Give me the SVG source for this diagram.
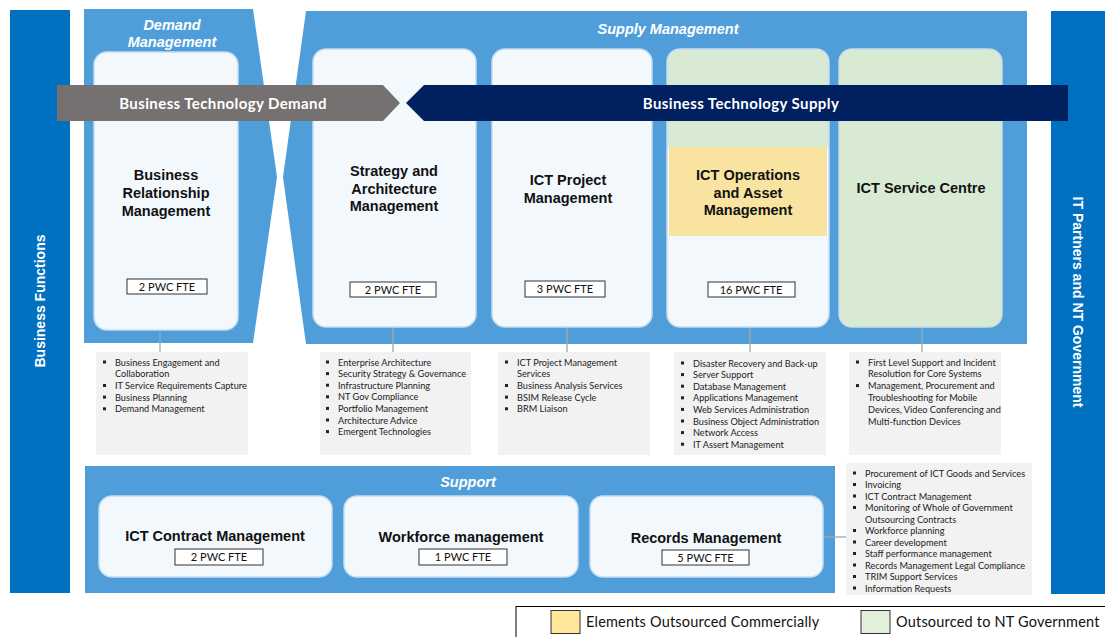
<svg xmlns="http://www.w3.org/2000/svg" width="1105" height="637" viewBox="0 0 1105 637">
  <defs>
    <style>
      .band{fill:#0070C0}
      .panel{fill:#4F9EDA}
      .node{fill:#F3F8FD;stroke:#C6DCF1;stroke-width:1.5}
      .gnode{fill:#D9EAD4;stroke:#C6DCE6;stroke-width:1.5}
      .title{font-family:"Liberation Sans",Arial,sans-serif;font-weight:bold;font-size:14.5px;fill:#111;text-anchor:middle}
      .hdr{font-family:"Liberation Sans",Arial,sans-serif;font-weight:bold;font-style:italic;font-size:14.5px;fill:#fff;text-anchor:middle}
      .side{font-family:"Liberation Sans",Arial,sans-serif;font-weight:bold;font-size:14px;fill:#fff;text-anchor:middle}
      .arrowtxt{font-family:Lato,"Noto Sans",sans-serif;font-weight:bold;font-size:15px;letter-spacing:0.4px;fill:#fff;text-anchor:middle}
      .fte rect{fill:#fff;stroke:#333;stroke-width:1}
      .fte text{font-family:Lato,"Noto Sans",sans-serif;font-size:11px;fill:#111;text-anchor:middle}
      .list .bg{fill:#F2F2F2}
      .list text{font-family:Lato,"Noto Sans",sans-serif;font-size:9.2px;fill:#222}
      .list use{fill:#222}
      .conn line{stroke:#A6A6A6;stroke-width:1.3}
      .legend text{font-family:Lato,"Noto Sans",sans-serif;font-size:14.5px;letter-spacing:0.2px;fill:#111}
    </style>
    <rect id="bul" width="3" height="3"/>
    <clipPath id="opsClip">
      <rect x="667" y="49" width="162" height="278" rx="13"/>
    </clipPath>
  </defs>

  <!-- side bands -->
  <g id="business-functions">
    <rect class="band" x="10" y="10" width="60" height="583"/>
    <text class="side" transform="translate(45,301) rotate(-90)">Business Functions</text>
  </g>
  <g id="it-partners">
    <rect class="band" x="1051" y="11" width="54" height="583"/>
    <text class="side" transform="translate(1073,302) rotate(90)">IT Partners and NT Government</text>
  </g>

  <!-- management panels -->
  <g id="demand-management">
    <path class="panel" d="M84,9 L253,9 L277,177 L253,343 L84,343 Z"/>
    <text class="hdr" x="172" y="30">Demand</text>
    <text class="hdr" x="172" y="47">Management</text>
  </g>
  <g id="supply-management">
    <path class="panel" d="M306,11 L1027,11 L1027,344 L306,344 L283,177 Z"/>
    <text class="hdr" x="668" y="34">Supply  Management</text>
  </g>
  <g id="support">
    <rect class="panel" x="85" y="466" width="750" height="127"/>
    <text class="hdr" x="468" y="487">Support</text>
  </g>

  <!-- connectors -->
  <g id="connectors" class="conn">
    <line x1="160" y1="320" x2="160" y2="352"/>
    <line x1="393" y1="321" x2="393" y2="352"/>
    <line x1="567" y1="320" x2="567" y2="352"/>
    <line x1="750" y1="322" x2="750" y2="352"/>
    <line x1="922" y1="327" x2="922" y2="352"/>
    <line x1="823" y1="537" x2="848" y2="537"/>
  </g>

  <!-- supply / demand nodes -->
  <g id="brm">
    <rect class="node" x="94" y="52" width="144" height="278" rx="13"/>
    <text class="title" x="166" y="180">Business</text>
    <text class="title" x="166" y="198">Relationship</text>
    <text class="title" x="166" y="216">Management</text>
    <g class="fte"><rect x="127" y="279" width="80" height="15"/><text x="167" y="290.5">2 PWC FTE</text></g>
  </g>
  <g id="strategy">
    <rect class="node" x="313" y="49" width="163" height="278" rx="13"/>
    <text class="title" x="394" y="176">Strategy and</text>
    <text class="title" x="394" y="194">Architecture</text>
    <text class="title" x="394" y="211">Management</text>
    <g class="fte"><rect x="350" y="282" width="86" height="15"/><text x="393" y="293.5">2 PWC FTE</text></g>
  </g>
  <g id="project">
    <rect class="node" x="492" y="49" width="160" height="278" rx="13"/>
    <text class="title" x="568" y="185">ICT Project</text>
    <text class="title" x="568" y="203">Management</text>
    <g class="fte"><rect x="525" y="281" width="80" height="16"/><text x="565" y="293">3 PWC FTE</text></g>
  </g>
  <g id="operations">
    <g clip-path="url(#opsClip)">
      <rect x="667" y="49" width="162" height="278" fill="#F3F8FD"/>
      <rect x="667" y="49" width="162" height="98" fill="#D9EAD4"/>
      <rect x="669" y="147" width="158" height="89" fill="#F8E3A0"/>
    </g>
    <rect x="667" y="49" width="162" height="278" rx="13" fill="none" stroke="#C6DCF1" stroke-width="1.5"/>
    <text class="title" x="748" y="180">ICT Operations</text>
    <text class="title" x="748" y="198">and Asset</text>
    <text class="title" x="748" y="215">Management</text>
    <g class="fte"><rect x="708" y="282" width="87" height="15"/><text x="751" y="293.5">16 PWC FTE</text></g>
  </g>
  <g id="service-centre">
    <rect class="gnode" x="839" y="49" width="163" height="278" rx="13"/>
    <text class="title" x="921" y="193">ICT Service Centre</text>
  </g>

  <!-- demand / supply arrows -->
  <g id="tech-demand">
    <polygon points="57,85 383,85 400,103 383,121 57,121" fill="#767171"/>
    <text class="arrowtxt" x="223" y="108.5">Business Technology Demand</text>
  </g>
  <g id="tech-supply">
    <polygon points="406,103 424,85 1068,85 1068,121 424,121" fill="#002060"/>
    <text class="arrowtxt" x="741" y="108.5">Business Technology Supply</text>
  </g>

  <!-- service lists -->
  <g id="brm-list" class="list">
    <rect class="bg" x="96" y="352" width="152" height="103"/>
    <use href="#bul" x="103" y="360.5"/><text x="115" y="365.5">Business Engagement and</text>
    <text x="115" y="377.2">Collaboration</text>
    <use href="#bul" x="103" y="384"/><text x="115" y="389">IT Service Requirements Capture</text>
    <use href="#bul" x="103" y="395.6"/><text x="115" y="400.6">Business Planning</text>
    <use href="#bul" x="103" y="407.3"/><text x="115" y="412.3">Demand Management</text>
  </g>
  <g id="strategy-list" class="list">
    <rect class="bg" x="320" y="352" width="151" height="103"/>
    <use href="#bul" x="326" y="360.5"/><text x="338" y="365.5">Enterprise Architecture</text>
    <use href="#bul" x="326" y="372.1"/><text x="338" y="377.1">Security Strategy &amp; Governance</text>
    <use href="#bul" x="326" y="383.7"/><text x="338" y="388.7">Infrastructure Planning</text>
    <use href="#bul" x="326" y="395.3"/><text x="338" y="400.3">NT Gov Compliance</text>
    <use href="#bul" x="326" y="406.9"/><text x="338" y="411.9">Portfolio Management</text>
    <use href="#bul" x="326" y="418.5"/><text x="338" y="423.5">Architecture Advice</text>
    <use href="#bul" x="326" y="430.1"/><text x="338" y="435.1">Emergent Technologies</text>
  </g>
  <g id="project-list" class="list">
    <rect class="bg" x="498" y="352" width="152" height="103"/>
    <use href="#bul" x="505" y="360.5"/><text x="517" y="365.5">ICT Project Management</text>
    <text x="517" y="377.2">Services</text>
    <use href="#bul" x="505" y="384"/><text x="517" y="389">Business Analysis Services</text>
    <use href="#bul" x="505" y="395.6"/><text x="517" y="400.6">BSIM Release Cycle</text>
    <use href="#bul" x="505" y="407.3"/><text x="517" y="412.3">BRM Liaison</text>
  </g>
  <g id="operations-list" class="list">
    <rect class="bg" x="674" y="352" width="152" height="103"/>
    <use href="#bul" x="681" y="361.5"/><text x="693" y="366.5">Disaster Recovery and Back-up</text>
    <use href="#bul" x="681" y="373.1"/><text x="693" y="378.1">Server Support</text>
    <use href="#bul" x="681" y="384.7"/><text x="693" y="389.7">Database Management</text>
    <use href="#bul" x="681" y="396.3"/><text x="693" y="401.3">Applications Management</text>
    <use href="#bul" x="681" y="407.9"/><text x="693" y="412.9">Web Services Administration</text>
    <use href="#bul" x="681" y="419.5"/><text x="693" y="424.5">Business Object Administration</text>
    <use href="#bul" x="681" y="431.1"/><text x="693" y="436.1">Network Access</text>
    <use href="#bul" x="681" y="442.7"/><text x="693" y="447.7">IT Assert Management</text>
  </g>
  <g id="service-centre-list" class="list">
    <rect class="bg" x="849" y="352" width="152" height="103"/>
    <use href="#bul" x="856" y="360.5"/><text x="868" y="365.5">First Level Support and Incident</text>
    <text x="868" y="377.3">Resolution for Core Systems</text>
    <use href="#bul" x="856" y="384.1"/><text x="868" y="389.1">Management, Procurement and</text>
    <text x="868" y="400.9">Troubleshooting for Mobile</text>
    <text x="868" y="412.7">Devices, Video Conferencing and</text>
    <text x="868" y="424.5">Multi-function Devices</text>
  </g>
  <g id="support-list" class="list">
    <rect class="bg" x="846" y="463" width="186" height="132"/>
    <use href="#bul" x="853" y="471.5"/><text x="865" y="476.5">Procurement of ICT Goods and Services</text>
    <use href="#bul" x="853" y="483"/><text x="865" y="488">Invoicing</text>
    <use href="#bul" x="853" y="494.5"/><text x="865" y="499.5">ICT Contract Management</text>
    <use href="#bul" x="853" y="506"/><text x="865" y="511">Monitoring of Whole of Government</text>
    <text x="865" y="522.5">Outsourcing Contracts</text>
    <use href="#bul" x="853" y="529"/><text x="865" y="534">Workforce planning</text>
    <use href="#bul" x="853" y="540.5"/><text x="865" y="545.5">Career development</text>
    <use href="#bul" x="853" y="552"/><text x="865" y="557">Staff performance management</text>
    <use href="#bul" x="853" y="563.5"/><text x="865" y="568.5">Records Management Legal Compliance</text>
    <use href="#bul" x="853" y="575"/><text x="865" y="580">TRIM Support Services</text>
    <use href="#bul" x="853" y="586.5"/><text x="865" y="591.5">Information Requests</text>
  </g>

  <!-- support nodes -->
  <g id="contract">
    <rect class="node" x="99" y="496" width="233" height="81" rx="13"/>
    <text class="title" x="215" y="541">ICT Contract  Management</text>
    <g class="fte"><rect x="175" y="549" width="88" height="16"/><text x="219" y="561">2 PWC FTE</text></g>
  </g>
  <g id="workforce">
    <rect class="node" x="344" y="496" width="234" height="81" rx="13"/>
    <text class="title" x="461" y="542">Workforce management</text>
    <g class="fte"><rect x="419" y="549" width="88" height="16"/><text x="463" y="561">1 PWC FTE</text></g>
  </g>
  <g id="records">
    <rect class="node" x="590" y="496" width="233" height="81" rx="13"/>
    <text class="title" x="706" y="543">Records Management</text>
    <g class="fte"><rect x="662" y="550" width="87" height="15"/><text x="705.5" y="561.5">5 PWC FTE</text></g>
  </g>

  <!-- legend -->
  <g id="legend" class="legend">
    <rect x="516" y="606.5" width="600" height="40" fill="#fff" stroke="#000" stroke-width="1"/>
    <rect x="551" y="610.5" width="29" height="23" fill="#FFE699" stroke="#333" stroke-width="1"/>
    <text x="586" y="627">Elements Outsourced Commercially</text>
    <rect x="861" y="610.5" width="29" height="23" fill="#E2EFDA" stroke="#333" stroke-width="1"/>
    <text x="896" y="627">Outsourced to NT Government</text>
  </g>
</svg>
